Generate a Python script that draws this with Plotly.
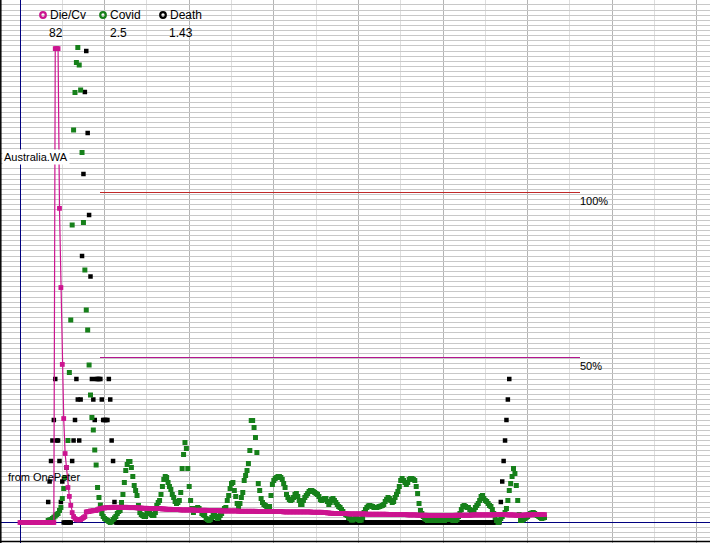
import plotly.graph_objects as go

# ---------------- data (x = day index, one day ~ 1.41 px) ----------------
covid_start = 19
covid = [
    0, 0.8, 1, 1.2, 1.6, 2.1, 2.6, 3.2, 3.6, 4.8,
    6, 9.6, 13.6, 18, 22, 32.8, 60, 81, 119, 157,
    172, 184, 190, 183, 173, 148, 120, 101, 85, 77,
    63, 51, 42, 37, 29, 23, 14, 10, 7, 3.6,
    2.4, 1.6, 1.2, 0.8, 0.4, 0, 0.4, 1.2, 1.8, 2.4,
    3.6, 4.4, 4.8, 8, 11.2, 16, 20.8, 23.2, 24.4, 24.4,
    22, 18.4, 14.8, 12.8, 10.8, 6.8, 4, 3.2, 2.8, 2.4,
    2.4, 4, 3.8, 3.6, 3.2, 2.8, 2.8, 4, 6.8, 8,
    8.8, 11.2, 14.4, 17.2, 18.4, 18, 16, 14.4, 13.2, 11.2,
    10, 8.4, 7.6, 8, 8.8, 12, 21.6, 27.2, 32, 29.6,
    21.6, 14.4, 8.8, 5.6, 4, 4.8, 5.6, 6, 5.6, 4.8,
    3.6, 3.2, 2.8, 1.6, 1.2, 0.8, 1.2, 2, 2.8, 2.8,
    2.4, 1.6, 2, 2.8, 3.6, 4.8, 5.6, 6, 8.8, 10.8,
    13.6, 15.6, 16, 12.8, 10.4, 7.6, 6, 7.6, 10, 12,
    16.8, 18.8, 20.8, 23.6, 28.8, 40.8, 40.8, 38, 34, 28,
    15.6, 12.8, 9.6, 8, 7.2, 6.8, 6.4, 5.8, 6.4, 10.8,
    15.2, 16.8, 17.6, 18, 18.4, 18.4, 18, 17.2, 15.6, 14,
    11.2, 10, 9.2, 8.8, 9.2, 10, 11.2, 11.6, 10.4, 8.8,
    7.2, 7.2, 8.8, 10, 10.8, 11.6, 12.4, 12.8, 12.8, 12.4,
    12, 11.6, 11.2, 10.4, 9.2, 8.8, 9.2, 9.6, 9.6, 8.4,
    7.2, 8, 9.2, 9.6, 8.8, 8, 7.2, 6.4, 6, 5.2,
    4.4, 3.6, 3.2, 2.8, 2, 1.6, 1, 1, 1.4, 1.6,
    1.6, 1.2, 0.8, 1, 2, 4, 5.2, 6, 6.6, 6.8,
    6.6, 6.4, 6, 6, 6, 6.2, 6.4, 6.6, 6.8, 7.2,
    8.4, 9.2, 10, 9.6, 8.8, 8, 8.4, 10, 11.2, 12.4,
    14.4, 16.8, 17.6, 16.8, 16, 15.2, 16, 17.2, 17.6, 17.6,
    17.2, 16.8, 14.4, 11.6, 7.6, 4.8, 3.6, 2.4, 1.6, 1.2,
    0.8, 0.8, 1, 0.8, 0.8, 1.2, 0.8, 0.8, 1.2, 0.8,
    1, 0.8, 0.8, 1.2, 1.2, 1.6, 1.6, 1.2, 0.8, 0.8,
    0.8, 1.2, 2.4, 3.6, 5.2, 6.4, 6.8, 6.4, 6, 6,
    5.2, 4.4, 4, 4.8, 6, 6.8, 7.6, 8.8, 10.4, 10.8,
    9.6, 8.8, 8.4, 7.6, 6.8, 6.4, 5.2, 3.6, 2, 0.8,
    0, 0.4, 1.6, 2.4, 3.2, 4, 5.6, 8.8, 12.8, 15.6,
    18.4, 21.6, 19.6, 14.8, 8.8, 3.2, 0.8, 0.8, 1.2, 1.6,
    2, 2.4, 3.2, 3.6, 3.8, 4, 3.6, 3, 2.8, 2.4,
    2, 1.6, 1.8, 2,
]

dcv_start = 0
die_cv = [
    0, 0, 0, 0, 0, 0, 0, 0, 0, 0, 0, 0, 0, 0, 0, 0, 0, 0, 0, 0, 0, 0, 0, 0, 0,
    143.6, 143.6, 143.6, 95.2, 71.2, 47.9, 31.5, 20.9, 16.7, 10.6,
    7.9, 5.2, 3.0, 1.8, 1.2, 0.9, 0.8, 0.8, 0.9, 1.2,
    1.5, 1.8, 3.2, 3.3, 3.3, 3.5, 3.5, 3.6, 3.6, 3.6,
    3.9, 4.1, 4.2, 4.2, 4.4, 4.4,
    4.5, 4.5, 4.5, 4.5, 4.6, 4.6, 4.6, 4.6, 4.6, 4.6, 4.6, 4.6, 4.6, 4.6, 4.6, 4.6, 4.5, 4.5, 4.5, 4.5,
    4.5, 4.5, 4.4, 4.4, 4.4, 4.4, 4.3, 4.3, 4.3, 4.3, 4.2, 4.2, 4.2, 4.2, 4.2, 4.2, 4.2, 4.2, 4.2, 4.2,
    4.1, 4.1, 4.1, 4.0, 4.0, 4.0, 4.0, 3.9, 3.9, 3.9, 3.9, 3.9, 3.9, 3.8, 3.8, 3.8, 3.8, 3.8, 3.8, 3.8,
    3.8, 3.8, 3.8, 3.7, 3.7, 3.7, 3.7, 3.7, 3.7, 3.7, 3.7, 3.7, 3.6, 3.6, 3.6, 3.6, 3.6, 3.6, 3.6, 3.6,
    3.6, 3.5, 3.5, 3.5, 3.5, 3.5, 3.5, 3.5, 3.5, 3.5,
    3.5, 3.5, 3.5, 3.5, 3.4, 3.4, 3.4, 3.4, 3.4, 3.4, 3.4, 3.4, 3.4, 3.4, 3.4, 3.4, 3.4, 3.3, 3.3, 3.3,
    3.3, 3.3, 3.3, 3.3, 3.3, 3.3, 3.3, 3.3, 3.3, 3.3,
    3.3, 3.3, 3.3, 3.3, 3.3, 3.3, 3.2, 3.2, 3.2, 3.2, 3.2, 3.2, 3.2, 3.2, 3.2, 3.2, 3.2, 3.2, 3.2, 3.2,
    3.2, 3.2, 3.2, 3.2, 3.2, 3.2, 3.1, 3.1, 3.1, 3.1,
    3.1, 3.1, 3.1, 3.1, 3.0, 3.0, 3.0, 2.9, 2.9, 2.8, 2.8, 2.7, 2.7, 2.7, 2.7, 2.7, 2.7, 2.7, 2.7, 2.7,
    2.7, 2.7, 2.6, 2.6, 2.6, 2.6, 2.6, 2.6, 2.6, 2.6,
    2.6, 2.6, 2.6, 2.6, 2.6, 2.5, 2.5, 2.5, 2.5, 2.5, 2.5, 2.5, 2.5, 2.5, 2.5, 2.5, 2.5, 2.5, 2.5, 2.5,
    2.4, 2.4, 2.4, 2.4, 2.4, 2.4, 2.4, 2.4, 2.4, 2.4,
    2.4, 2.4, 2.4, 2.4, 2.3, 2.3, 2.3, 2.3, 2.3, 2.3, 2.3, 2.2, 2.2, 2.2, 2.2, 2.2, 2.2, 2.2, 2.1, 2.1,
    2.1, 2.1, 2.1, 2.1, 2.1, 2.1, 2.1, 2.1, 2.1, 2.1,
    2.1, 2.1, 2.1, 2.1, 2.1, 2.1, 2.1, 2.1, 2.2, 2.2, 2.2, 2.2, 2.2, 2.2, 2.2, 2.2, 2.2, 2.2, 2.2, 2.2,
    2.3, 2.3, 2.3, 2.3, 2.3, 2.3, 2.3, 2.3, 2.3, 2.3,
    2.3, 2.3, 2.3, 2.3, 2.3, 2.3, 2.4, 2.4, 2.4, 2.4, 2.4, 2.4, 2.4, 2.4, 2.4, 2.3, 2.3, 2.3, 2.3, 2.3,
    2.2, 2.2, 2.2, 2.2, 2.2, 2.2, 2.2, 2.3, 2.3, 2.3,
    2.3, 2.3, 2.3, 2.4, 2.4, 2.4, 2.4, 2.4, 2.4, 2.4, 2.4, 2.4,
]

death_start = 20
death_wave1 = [
    1, 2, 3, 4, 5, 7, 4, 4, 3, 1,
    2, 0, 0, 0, 0, 0, 0, 3, 4, 5,
    7, 6, 4, 6, 13, 17, 21, 23, 19, 15,
    12, 7, 6, 5, 7, 7, 7, 7, 6, 5,
    5, 5, 5, 7, 6, 4, 3, 1,
]
death_quiet = [0] * 273
death_wave2 = [1, 2, 3, 4, 5, 6, 7]
death = death_wave1 + death_quiet + death_wave2

legend_names = ["Die/Cv", "Covid", "Death"]
legend_values = ["82", "2.5", "1.43"]
ref_levels = [100, 50]          # Die/Cv percentage reference lines
ref_labels = ["100%", "50%"]

# ---------------- styling ----------------
W, H = 710, 543
PX_PER_DAY = 1.41
X0_PX = 20          # pixel column of day 0
ZERO_PX = 522.5     # pixel row of the zero line
C_MAG = "#cc1490"
C_GRN = "#16801a"
C_BLK = "#000000"
NAVY = "#000080"
FONT = "Liberation Sans"

def xr(px):
    return (px - X0_PX) / PX_PER_DAY

def fx(px):
    return px / W

def fy(py):
    return 1 - py / H

covid_days = list(range(covid_start, covid_start + len(covid)))
dcv_days = list(range(dcv_start, dcv_start + len(die_cv)))
death_days = list(range(death_start, death_start + len(death)))

fig = go.Figure()
fig.add_trace(go.Scatter(
    x=death_days, y=death, mode="markers", yaxis="y", name="Death",
    marker=dict(symbol="square", size=4.5, color=C_BLK, line=dict(width=0)),
    showlegend=False, hoverinfo="skip"))
fig.add_trace(go.Scatter(
    x=covid_days, y=covid, mode="markers", yaxis="y2", name="Covid",
    marker=dict(symbol="square", size=5, color=C_GRN, line=dict(width=0)),
    showlegend=False, hoverinfo="skip"))
fig.add_trace(go.Scatter(
    x=dcv_days, y=die_cv, mode="lines+markers", yaxis="y3", name="Die/Cv",
    line=dict(color=C_MAG, width=1.2),
    marker=dict(symbol="square", size=4.8, color=C_MAG, line=dict(width=0)),
    showlegend=False, hoverinfo="skip"))

shapes = []
# reference lines 100% / 50%
ref_colors = ["#c02828", "#b4168e"]
for lv, col in zip(ref_levels, ref_colors):
    shapes.append(dict(type="line", xref="x", yref="y3", x0=xr(100), x1=xr(580),
                       y0=lv, y1=lv, line=dict(color=col, width=1), layer="above"))
# frame (left and bottom)
shapes.append(dict(type="line", xref="paper", yref="paper", x0=fx(0.8), x1=fx(0.8), y0=0, y1=1,
                   line=dict(color="black", width=1.5), layer="above"))
shapes.append(dict(type="line", xref="paper", yref="paper", x0=0, x1=1, y0=fy(541.5), y1=fy(541.5),
                   line=dict(color="black", width=1.5), layer="above"))
# legend rings
ring_cols = [C_MAG, C_GRN, C_BLK]
ring_px = [43, 103, 163]
for cx, col in zip(ring_px, ring_cols):
    shapes.append(dict(type="circle", xref="paper", yref="paper", xsizemode="pixel", ysizemode="pixel",
                       xanchor=fx(cx), yanchor=fy(15), x0=-2.8, x1=2.8, y0=-2.8, y1=2.8,
                       line=dict(color=col, width=2.2), fillcolor="rgba(0,0,0,0)", layer="above"))

ann = []
for name, cx in zip(legend_names, ring_px):
    ann.append(dict(text=name, xref="paper", yref="paper", x=fx(cx + 5), y=fy(15),
                    xanchor="left", yanchor="middle", showarrow=False,
                    font=dict(family=FONT, size=12, color="black")))
for val, cx in zip(legend_values, [56, 118, 180.5]):
    ann.append(dict(text=val, xref="paper", yref="paper", x=fx(cx), y=fy(32.5),
                    xanchor="center", yanchor="middle", showarrow=False,
                    font=dict(family=FONT, size=12, color="black")))
for lv, lab in zip(ref_levels, ref_labels):
    ann.append(dict(text=lab, xref="x", yref="y3", x=xr(578), y=lv, xanchor="left", yanchor="top",
                    showarrow=False, font=dict(family=FONT, size=11, color="black")))
ann.append(dict(text="Australia.WA", xref="paper", yref="paper", x=fx(35.5), y=fy(157),
                xanchor="center", yanchor="middle", showarrow=False, bgcolor="white", borderpad=1,
                font=dict(family=FONT, size=11, color="black")))
ann.append(dict(text="from OnePeter", xref="paper", yref="paper", x=fx(44), y=fy(477),
                xanchor="center", yanchor="middle", showarrow=False,
                font=dict(family=FONT, size=11, color="black")))

fig.update_layout(
    width=W, height=H, margin=dict(l=0, r=0, t=0, b=0),
    paper_bgcolor="white", plot_bgcolor="white", showlegend=False,
    xaxis=dict(range=[xr(0), xr(W)], showticklabels=False, ticks="", showline=False,
               tick0=0, dtick=60, showgrid=True, gridcolor="#b4b4b4", gridwidth=1,
               minor=dict(dtick=30, showgrid=True, gridcolor="#dedede", gridwidth=1),
               zeroline=True, zerolinecolor=NAVY, zerolinewidth=1, fixedrange=True),
    yaxis=dict(range=[(ZERO_PX - H) / 20.5, ZERO_PX / 20.5], showticklabels=False, ticks="",
               showline=False, tick0=0, dtick=0.25, showgrid=True, gridcolor="#c8c8c8", gridwidth=1,
               zeroline=True, zerolinecolor=NAVY, zerolinewidth=1, fixedrange=True),
    yaxis2=dict(range=[(ZERO_PX - H) / 2.5, ZERO_PX / 2.5], overlaying="y", visible=False,
                fixedrange=True),
    yaxis3=dict(range=[(ZERO_PX - H) / 3.3, ZERO_PX / 3.3], overlaying="y", visible=False,
                fixedrange=True),
    shapes=shapes, annotations=ann,
)

fig.write_html("out.html")
